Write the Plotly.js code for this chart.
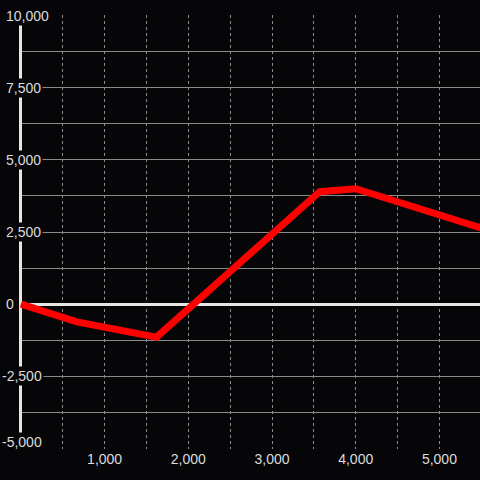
<!DOCTYPE html>
<html>
<head>
<meta charset="utf-8">
<script src="https://cdn.plot.ly/plotly-3.0.1.min.js"></script>
<style>html,body{margin:0;padding:0;background:#060609;}#chart{width:480px;height:480px;}</style>
</head>
<body>
<div id="chart"></div>
<script>
const xValues = [0, 670, 1620, 3570, 4000, 5500];
const yValues = [0, -620, -1150, 3900, 4000, 2640];
const yTickVals = [-5000, -2500, 0, 2500, 5000, 7500, 10000];
const yTickText = ['-5,000', '-2,500', '0', '2,500', '5,000', '7,500', '10,000'];
const xTickVals = [1000, 2000, 3000, 4000, 5000];
const xTickText = ['1,000', '2,000', '3,000', '4,000', '5,000'];

const BG = '#060609';
const yMin = -5000;

const trace = {
  x: xValues, y: yValues, type: 'scatter', mode: 'lines',
  line: {color: '#ff0000', width: 7},
  hoverinfo: 'skip'
};

// y tick labels drawn as boxed labels so that lines underneath are masked
const yLabels = yTickVals.map((v, i) => ({
  xref: 'paper', yref: 'y', x: -0.033, y: v,
  xanchor: 'left', yanchor: 'middle',
  text: yTickText[i], showarrow: false,
  bgcolor: BG, borderpad: 1,
  xshift: v < 0 ? -4 : 0,
  yshift: v === yMin ? 6 : 0,
  font: {family: 'Liberation Sans, Arial, sans-serif', size: 14, color: '#dcdcdc'}
}));

const layout = {
  width: 480, height: 480,
  paper_bgcolor: BG, plot_bgcolor: BG,
  margin: {l: 19, r: 0, t: 15, b: 31},
  showlegend: false,
  font: {family: 'Liberation Sans, Arial, sans-serif', size: 14, color: '#dcdcdc'},
  xaxis: {
    range: [-23, 5485],
    tickmode: 'array', tickvals: xTickVals, ticktext: xTickText,
    showgrid: true, gridcolor: '#8a8a8a', gridwidth: 1, griddash: 'dot',
    minor: {dtick: 500, tick0: 0, showgrid: true, gridcolor: '#8a8a8a', gridwidth: 1, griddash: 'dot'},
    zeroline: true, zerolinecolor: '#e6e6e6', zerolinewidth: 3,
    showline: false, ticks: ''
  },
  yaxis: {
    range: [-5030, 10030],
    tickmode: 'array', tickvals: yTickVals, ticktext: yTickText,
    showticklabels: false,
    showgrid: true, gridcolor: '#8a8a8a', gridwidth: 1,
    minor: {dtick: 1250, tick0: 0, showgrid: true, gridcolor: '#8a8a8a', gridwidth: 1},
    zeroline: true, zerolinecolor: '#e6e6e6', zerolinewidth: 3,
    showline: false, ticks: ''
  },
  annotations: yLabels
};

Plotly.newPlot('chart', [trace], layout, {staticPlot: true, displayModeBar: false});
</script>
</body>
</html>
